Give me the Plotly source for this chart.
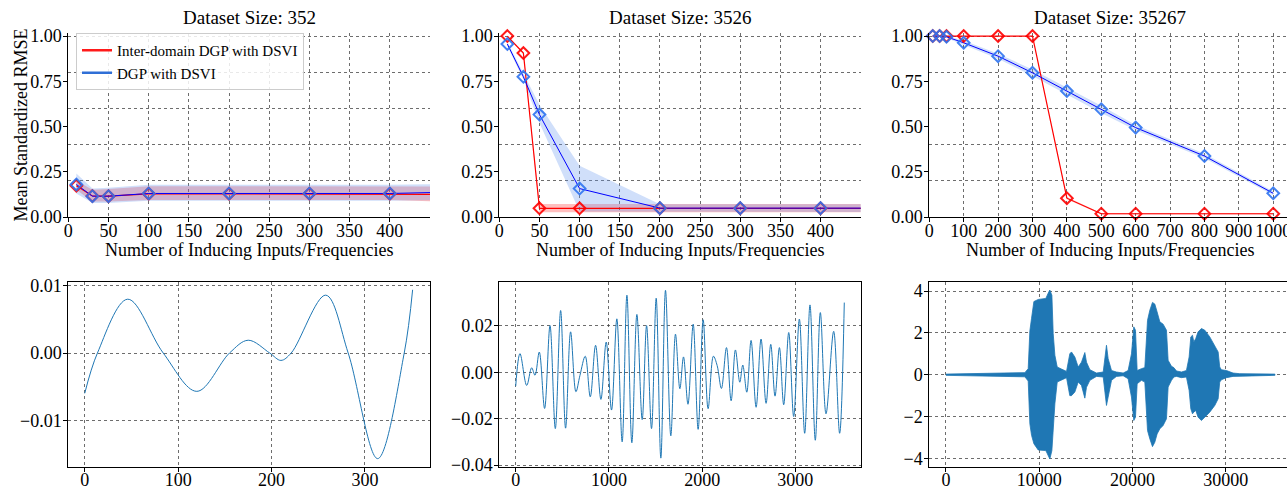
import plotly.graph_objects as go

# ---------------- data ----------------
inducing_small = [10, 30, 50, 100, 200, 300, 400, 500]
inducing_large = [10, 30, 50, 100, 200, 300, 400, 500, 600, 800, 1000]

red_352 = [0.173, 0.116, 0.115, 0.128, 0.128, 0.128, 0.128, 0.125]
red_352_lo = [0.150, 0.085, 0.085, 0.094, 0.094, 0.094, 0.094, 0.080]
red_352_hi = [0.200, 0.150, 0.155, 0.170, 0.170, 0.170, 0.170, 0.168]
blue_352 = [0.180, 0.115, 0.115, 0.130, 0.130, 0.130, 0.130, 0.140]
blue_352_lo = [0.130, 0.078, 0.078, 0.090, 0.090, 0.090, 0.090, 0.095]
blue_352_hi = [0.240, 0.158, 0.162, 0.178, 0.178, 0.178, 0.178, 0.185]

red_3526 = [1.0, 0.906, 0.048, 0.048, 0.048, 0.048, 0.048, 0.048]
red_3526_lo = [0.995, 0.900, 0.026, 0.026, 0.026, 0.026, 0.026, 0.026]
red_3526_hi = [1.0, 0.912, 0.072, 0.072, 0.072, 0.072, 0.072, 0.072]
blue_3526 = [0.956, 0.775, 0.566, 0.157, 0.049, 0.049, 0.049, 0.049]
blue_3526_lo = [0.945, 0.760, 0.520, 0.030, 0.028, 0.028, 0.028, 0.028]
blue_3526_hi = [0.967, 0.790, 0.620, 0.283, 0.070, 0.070, 0.070, 0.070]

red_35267 = [1.0, 1.0, 1.0, 1.0, 1.0, 1.0, 0.104, 0.018, 0.018, 0.018, 0.018]
red_35267_lo = [0.998, 0.998, 0.998, 0.998, 0.998, 0.998, 0.098, 0.014, 0.014, 0.014, 0.014]
red_35267_hi = [1.0, 1.0, 1.0, 1.0, 1.0, 1.0, 0.110, 0.022, 0.022, 0.022, 0.022]
blue_35267 = [1.0, 1.0, 0.996, 0.963, 0.889, 0.797, 0.696, 0.595, 0.494, 0.337, 0.131]
blue_35267_lo = [0.995, 0.995, 0.990, 0.952, 0.875, 0.780, 0.676, 0.575, 0.480, 0.325, 0.120]
blue_35267_hi = [1.0, 1.0, 1.0, 0.975, 0.903, 0.815, 0.716, 0.615, 0.508, 0.350, 0.142]

# bottom row signals
sig352_x = [0, 13.6, 46, 84, 120, 155, 175, 198, 210, 221, 258, 282, 313.6, 342, 351]
sig352_y = [-0.006, 0.0, 0.008, 0.0, -0.0057, 0.0, 0.0019, 0.0, -0.0011, 0.0, 0.0086, 0.0, -0.0157, 0.0, 0.0094]

sig3526_x = [0, 46, 118, 171, 207, 253, 310, 368, 425, 482, 535, 589, 646, 689, 746, 800, 857, 914, 971, 1028,
             1085, 1142, 1193, 1246, 1300, 1357, 1404, 1457, 1507, 1557, 1607, 1664, 1714, 1761, 1800, 1848, 1904,
             1957, 2011, 2064, 2121, 2161, 2207, 2261, 2311, 2357, 2404, 2436, 2479, 2525, 2579, 2632, 2686, 2736,
             2782, 2829, 2875, 2929, 2982, 3043, 3100, 3157, 3214, 3268, 3329, 3411, 3475, 3525]
sig3526_y = [-0.006, 0.008, -0.0057, 0.0019, -0.0013, 0.0087, -0.0156, 0.0201, -0.0243, 0.0266, -0.0241, 0.0174,
             -0.0084, -0.0014, 0.0069, -0.0106, 0.0116, -0.0117, 0.013, -0.0163, 0.023, -0.030, 0.0332, -0.0304,
             0.0249, -0.0204, 0.0201, -0.0243, 0.0319, -0.037, 0.0353, -0.0274, 0.0164, -0.0071, 0.0066, -0.0138,
             0.0207, -0.0246, 0.0226, -0.0157, 0.0069, 0.0029, -0.007, 0.0106, -0.0123, 0.0096, -0.0043, 0.0031,
             -0.0086, 0.0137, -0.0151, 0.0143, -0.0134, 0.012, -0.0103, 0.0106, -0.014, 0.0171, -0.0191, 0.0229,
             -0.0263, 0.029, -0.0293, 0.0257, -0.0179, 0.0176, -0.0263, 0.030]

env_x = [0, 8460, 8820, 9000, 9180, 9430, 9890, 10710, 10960, 11140, 11360, 11500, 11680, 11930, 12390, 12930,
         13280, 13460, 13820, 14180, 14530, 14890, 15070, 15430, 16140, 16860, 17210, 17390, 17750, 18280, 19000,
         19530, 19890, 20140, 20320, 20500, 20960, 21320, 21610, 21860, 22140, 22390, 22640, 22930, 23280, 23640,
         23820, 24180, 24430, 24710, 25250, 25780, 26070, 26250, 26430, 26570, 26780, 27030, 27390, 27750, 28280,
         28820, 29180, 29350, 29530, 30070, 30780, 31500, 35266]
env_hi = [0.03, 0.1, 0.29, 2.1, 2.7, 3.5, 3.6, 3.65, 3.9, 4.05, 3.8, 1.97, 0.93, 0.37, 0.27, 0.16, 1.0, 1.09, 0.85,
          0.37, 0.6, 1.06, 0.6, 0.24, 0.08, 0.13, 1.41, 0.77, 0.2, 0.13, 0.08, 0.2, 1.0, 2.29, 2.13, 0.2, 0.29, 0.34,
          2.6, 3.09, 3.46, 3.38, 3.0, 2.53, 2.42, 2.13, 0.69, 0.4, 0.34, 0.18, 0.13, 0.2, 0.85, 1.81, 1.89, 1.57,
          1.73, 2.05, 2.21, 2.13, 1.81, 1.41, 1.09, 0.37, 0.24, 0.2, 0.08, 0.05, 0.03]
env_lo = [-0.03, -0.1, -0.3, -2.35, -2.9, -3.3, -3.6, -3.63, -3.87, -4.03, -3.63, -2.67, -1.39, -0.35, -0.27, -0.14,
          -1.0, -1.0, -0.83, -0.35, -0.51, -1.12, -0.6, -0.27, -0.08, -0.11, -1.47, -1.07, -0.27, -0.08, -0.05,
          -0.19, -1.07, -2.19, -2.03, -0.43, -0.27, -0.35, -2.67, -3.07, -3.44, -3.23, -2.83, -2.59, -2.43, -2.11,
          -0.59, -0.27, -0.11, -0.08, -0.14, -0.11, -0.75, -1.63, -1.87, -1.79, -1.71, -2.03, -2.19, -2.03, -1.79,
          -1.47, -1.15, -0.35, -0.24, -0.14, -0.08, -0.05, -0.03]

titles = ["Dataset Size: 352", "Dataset Size: 3526", "Dataset Size: 35267"]
legend_names = ["Inter-domain DGP with DSVI", "DGP with DSVI"]
xlabel = "Number of Inducing Inputs/Frequencies"
ylabel = "Mean Standardized RMSE"

# ---------------- styling ----------------
W, H = 1287, 487
FONT = "Liberation Serif"
RED = "#ff0000"
BLUE_LINE = "#0000ff"
RED_MK = "rgba(255,0,0,0.9)"
BLUE_MK = "rgba(45,115,240,0.9)"
RED_BAND = "rgba(255,0,0,0.25)"
BLUE_BAND = "rgba(100,149,237,0.30)"
SIG = "#1f77b4"
GRID = "rgba(60,60,60,0.75)"

fig = go.Figure()

def px2x(p):
    return p / W

def px2y(p):
    return (H - p) / H

xdom = [[px2x(68.3), px2x(430)], [px2x(499.3), px2x(860.7)], [px2x(929.3), 1.0]]
top_dom = [px2y(217), px2y(33)]
bot_dom = [px2y(466.7), px2y(281.7)]

top_sets = [
    (inducing_small, red_352, red_352_lo, red_352_hi, blue_352, blue_352_lo, blue_352_hi, 450),
    (inducing_small, red_3526, red_3526_lo, red_3526_hi, blue_3526, blue_3526_lo, blue_3526_hi, 450),
    (inducing_large, red_35267, red_35267_lo, red_35267_hi, blue_35267, blue_35267_lo, blue_35267_hi, 1040),
]

for i, (xs, r, rlo, rhi, b, blo, bhi, xmax) in enumerate(top_sets):
    xa = "x" if i == 0 else f"x{i+1}"
    ya = "y" if i == 0 else f"y{i+1}"
    for lo, hi, col in [(rlo, rhi, RED_BAND), (blo, bhi, BLUE_BAND)]:
        fig.add_trace(go.Scatter(x=list(xs) + list(xs)[::-1], y=list(hi) + list(lo)[::-1],
                                 fill="toself", fillcolor=col, line=dict(width=0), mode="lines",
                                 hoverinfo="skip", showlegend=False, xaxis=xa, yaxis=ya))
    fig.add_trace(go.Scatter(x=xs, y=r, mode="lines", line=dict(color=RED, width=1.2),
                             showlegend=False, xaxis=xa, yaxis=ya))
    fig.add_trace(go.Scatter(x=xs, y=b, mode="lines", line=dict(color=BLUE_LINE, width=1),
                             showlegend=False, xaxis=xa, yaxis=ya))
    vis = [k for k, v in enumerate(xs) if v <= xmax]
    fig.add_trace(go.Scatter(x=[xs[k] for k in vis], y=[r[k] for k in vis], mode="markers",
                             marker=dict(symbol="diamond-open", size=9, color=RED_MK, line=dict(width=2, color=RED_MK)),
                             cliponaxis=False, showlegend=False, xaxis=xa, yaxis=ya))
    fig.add_trace(go.Scatter(x=[xs[k] for k in vis], y=[b[k] for k in vis], mode="markers",
                             marker=dict(symbol="diamond-open", size=9, color=BLUE_MK, line=dict(width=2, color=BLUE_MK)),
                             cliponaxis=False, showlegend=False, xaxis=xa, yaxis=ya))

# legend proxies
fig.add_trace(go.Scatter(x=[None], y=[None], mode="lines", name=legend_names[0],
                         line=dict(color="#ff1a1a", width=2.5), xaxis="x", yaxis="y"))
fig.add_trace(go.Scatter(x=[None], y=[None], mode="lines", name=legend_names[1],
                         line=dict(color="#2f6fd6", width=2.5), xaxis="x", yaxis="y"))

# bottom row
fig.add_trace(go.Scatter(x=sig352_x, y=sig352_y, mode="lines", line=dict(color=SIG, width=1, shape="spline", smoothing=1.0),
                         showlegend=False, xaxis="x4", yaxis="y4"))
fig.add_trace(go.Scatter(x=sig3526_x, y=sig3526_y, mode="lines", line=dict(color=SIG, width=1, shape="spline", smoothing=1.0),
                         showlegend=False, xaxis="x5", yaxis="y5"))
fig.add_trace(go.Scatter(x=env_x + env_x[::-1], y=env_hi + env_lo[::-1], mode="lines", fill="toself",
                         fillcolor=SIG, line=dict(color=SIG, width=0.8), showlegend=False, xaxis="x6", yaxis="y6"))

tickfont = dict(family=FONT, size=18, color="black")
common = dict(showline=True, linecolor="black", linewidth=1, ticks="outside", ticklen=4, tickwidth=1,
              tickcolor="black", tickfont=tickfont, zeroline=False, showgrid=True, gridcolor=GRID,
              griddash="dot", gridwidth=1, automargin=False, ticklabeloverflow="allow")
XSTAND = -7
YSTAND = -2

layout = dict(width=W, height=H, margin=dict(l=0, r=0, t=0, b=0, autoexpand=False),
              plot_bgcolor="white", paper_bgcolor="white",
              font=dict(family=FONT, color="black"), showlegend=True,
              legend=dict(x=px2x(76), y=px2y(33), xanchor="left", yanchor="top",
                          bgcolor="rgba(255,255,255,0.85)", bordercolor="#cccccc", borderwidth=1,
                          font=dict(family=FONT, size=15, color="black"), tracegroupgap=0))

top_xticks = [list(range(0, 401, 50)), list(range(0, 401, 50)), list(range(0, 1001, 100))]
top_xrange = [[0, 450], [0, 450], [0, 1040]]
for i in range(3):
    xk = "xaxis" if i == 0 else f"xaxis{i+1}"
    yk = "yaxis" if i == 0 else f"yaxis{i+1}"
    anchor_y = "y" if i == 0 else f"y{i+1}"
    anchor_x = "x" if i == 0 else f"x{i+1}"
    layout[xk] = dict(common, domain=xdom[i], anchor=anchor_y, range=top_xrange[i],
                      tickmode="array", tickvals=top_xticks[i], mirror=False, ticklabelstandoff=XSTAND)
    layout[yk] = dict(common, domain=top_dom, anchor=anchor_x, range=[0, 1.017],
                      tickmode="array", tickvals=[0, 0.25, 0.5, 0.75, 1.0], tickformat=".2f",
                      showgrid=False, mirror=False, ticklabelstandoff=YSTAND,
                      minor=dict(tickmode="array", tickvals=[0.2, 0.4, 0.6, 0.8, 1.0], showgrid=True,
                                 gridcolor=GRID, griddash="dot", gridwidth=1, ticks=""))

bot_cfg = [
    dict(xr=[-17.6, 369.6], xt=[0, 100, 200, 300], yr=[-0.0169, 0.0106], yt=[-0.01, 0.0, 0.01], yf=".2f"),
    dict(xr=[-176, 3701], xt=[0, 1000, 2000, 3000], yr=[-0.0407, 0.039], yt=[-0.04, -0.02, 0.0, 0.02], yf=".2f"),
    dict(xr=[-1780, 36560], xt=[0, 10000, 20000, 30000], yr=[-4.4, 4.45], yt=[-4, -2, 0, 2, 4], yf="d"),
]
for j, cfg in enumerate(bot_cfg):
    n = j + 4
    layout[f"xaxis{n}"] = dict(common, domain=xdom[j], anchor=f"y{n}", range=cfg["xr"], tickmode="array",
                               tickvals=cfg["xt"], tickformat="d", mirror=True, ticklabelstandoff=XSTAND)
    layout[f"yaxis{n}"] = dict(common, domain=bot_dom, anchor=f"x{n}", range=cfg["yr"], tickmode="array",
                               tickvals=cfg["yt"], tickformat=cfg["yf"], mirror=True, ticklabelstandoff=YSTAND)

annotations = []
centers = [249.3, 680.0, 1110.3]
for i in range(3):
    annotations.append(dict(text=titles[i], x=px2x(centers[i]), y=px2y(17), xref="paper", yref="paper",
                            showarrow=False, xanchor="center", yanchor="middle",
                            font=dict(family=FONT, size=19, color="black")))
    annotations.append(dict(text=xlabel, x=px2x(centers[i]), y=px2y(250), xref="paper", yref="paper",
                            showarrow=False, xanchor="center", yanchor="middle",
                            font=dict(family=FONT, size=18, color="black")))
annotations.append(dict(text=ylabel, x=px2x(20.5), y=px2y(125), xref="paper", yref="paper", showarrow=False,
                        textangle=-90, xanchor="center", yanchor="middle",
                        font=dict(family=FONT, size=18, color="black")))
layout["annotations"] = annotations

fig.update_layout(**layout)
fig.write_html("out.html")
